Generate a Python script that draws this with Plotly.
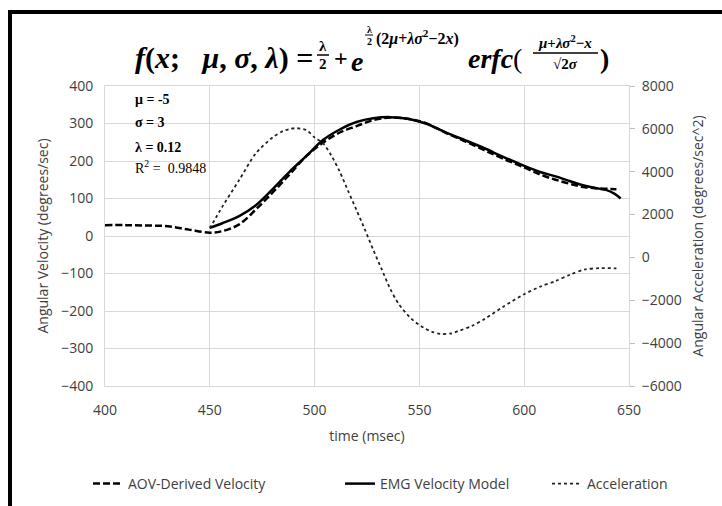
import plotly.graph_objects as go

# ---- data ----
aov_t = [400, 410, 420, 430, 440, 450, 456, 464, 472, 480, 488, 496, 504, 512, 520, 528, 536, 545, 553, 563, 572, 581, 590, 600, 608, 615, 622, 629, 636, 644]
aov_v = [29, 29, 28, 26, 17, 9, 13, 31, 71, 116, 164, 213, 249, 276, 293, 309, 316, 312, 301, 274, 252, 229, 206, 183, 163, 150, 139, 130, 127, 125]

emg_t = [450, 456, 464, 472, 480, 488, 496, 504, 512, 520, 528, 536, 545, 553, 563, 572, 581, 590, 600, 608, 615, 622, 629, 635, 639, 643, 646]
emg_v = [22, 34, 53, 82, 125, 171, 213, 256, 284, 304, 314, 317, 312, 300, 275, 255, 234, 211, 187, 170, 159, 146, 134, 127, 123, 113, 100]

acc_t = [450, 456, 464, 472, 480, 485, 488, 491, 496, 500, 504, 508, 512, 516, 520, 524, 528, 532, 536, 540, 546, 552, 556, 560, 565, 569, 575, 581, 590, 600, 608, 615, 622, 629, 636, 644]
acc_a = [1360, 2370, 3610, 4860, 5600, 5900, 5990, 6030, 5950, 5600, 5330, 4750, 4000, 3100, 2210, 1300, 350, -550, -1450, -2150, -2850, -3280, -3470, -3570, -3550, -3420, -3200, -2880, -2300, -1715, -1350, -1100, -800, -560, -500, -510]

x_ticks = [400, 450, 500, 550, 600, 650]
y_ticks = [400, 300, 200, 100, 0, -100, -200, -300, -400]
y2_ticks = [8000, 6000, 4000, 2000, 0, -2000, -4000, -6000]

params = ["<b>\u03bc = -5</b>", "<b>\u03c3 = 3</b>", "<b>\u03bb = 0.12</b>", "R<sup>2</sup> =  0.9848"]

# ---- layout geometry ----
W, H = 722, 506
L, R, T, B = 105, 93, 86, 120
PW, PH = W - L - R, H - T - B

def px(x):
    return (x - L) / PW

def py(y):
    return (H - B - y) / PH

GRID = "#d9d9d9"
TXT = "#404040"
TICKFONT = dict(family="Open Sans", size=14, color=TXT)

fig = go.Figure()
fig.add_trace(go.Scatter(x=aov_t, y=aov_v, mode="lines", name="AOV-Derived Velocity",
                         line=dict(color="black", width=2.5, dash="7px,3px", shape="spline"),
                         legend="legend"))
fig.add_trace(go.Scatter(x=emg_t, y=emg_v, mode="lines", name="EMG Velocity Model",
                         line=dict(color="black", width=2.5, shape="spline"),
                         legend="legend2"))
fig.add_trace(go.Scatter(x=acc_t, y=acc_a, mode="lines", name="Acceleration", yaxis="y2",
                         line=dict(color="#222222", width=1.8, dash="dot", shape="spline", smoothing=0.8),
                         legend="legend3"))

ann = []
# parameter box
for txt, yy in zip(params, [100, 123, 147, 167]):
    ann.append(dict(text=txt, x=px(133), y=py(yy), xref="paper", yref="paper", xanchor="left",
                    yanchor="middle", showarrow=False,
                    font=dict(family="Liberation Serif", size=14, color="black")))

SERIF = "Liberation Serif"
def t(text, x, y, size, anchor="center"):
    ann.append(dict(text=text, x=px(x), y=py(y), xref="paper", yref="paper", xanchor=anchor,
                    yanchor="middle", showarrow=False,
                    font=dict(family=SERIF, size=size, color="black")))

NB = "\u00a0"
# formula title
t("<b><i>f</i>(<i>x</i>;" + NB * 3 + "<i>\u03bc</i>," + NB + "<i>\u03c3</i>," + NB + "<i>\u03bb</i>)" + NB + "=</b>", 315, 58, 30, "right")
t("<b>\u03bb</b>", 323, 46, 15)
t("<b>2</b>", 323, 64, 15)
t("<b>+</b>", 341, 58, 24)
t("<b><i>e</i></b>", 357, 61, 28)
t("<b>\u03bb</b>", 369, 29, 10)
t("<b>2</b>", 369, 41, 10)
t("<b>(2<i>\u03bc</i>+<i>\u03bb\u03c3</i><sup>2</sup>\u22122<i>x</i>)</b>", 374, 37, 16, "left")
t("<b><i>erfc</i></b>(", 466, 58, 28, "left")
t("<b><i>\u03bc</i>+<i>\u03bb\u03c3</i><sup>2</sup>\u2212<i>x</i></b>", 565, 42, 15)
t("<b>\u221a2<i>\u03c3</i></b>", 565, 64, 15)
t("<b>)</b>", 604, 58, 28)

shapes = [
    dict(type="line", xref="paper", yref="paper", x0=px(317), x1=px(329), y0=py(55), y1=py(55),
         line=dict(color="black", width=1.5)),
    dict(type="line", xref="paper", yref="paper", x0=px(365), x1=px(373), y0=py(35), y1=py(35),
         line=dict(color="black", width=1)),
    dict(type="line", xref="paper", yref="paper", x0=px(533), x1=px(598), y0=py(53), y1=py(53),
         line=dict(color="black", width=1.5)),
    # outer black frame (left and top visible)
    dict(type="line", xref="paper", yref="paper", x0=px(10), x1=px(10), y0=py(12), y1=py(515),
         line=dict(color="black", width=4)),
    dict(type="line", xref="paper", yref="paper", x0=px(8), x1=px(730), y0=py(12), y1=py(12),
         line=dict(color="black", width=4)),
]

legfont = dict(family="Open Sans", size=14, color=TXT)
def leg(xpx):
    return dict(x=px(xpx), y=py(484), xanchor="left", yanchor="middle", orientation="h",
                font=legfont, bgcolor="rgba(0,0,0,0)", borderwidth=0)

fig.update_layout(
    width=W, height=H,
    margin=dict(l=L, r=R, t=T, b=B, autoexpand=False),
    paper_bgcolor="white", plot_bgcolor="white",
    showlegend=True,
    legend=leg(88), legend2=leg(340), legend3=leg(547),
    xaxis=dict(range=[400, 650], tickvals=x_ticks, showgrid=True, gridcolor=GRID, gridwidth=1,
               zeroline=False, showline=True, linecolor=GRID, mirror=True, ticks="",
               tickfont=TICKFONT, ticklabelstandoff=11, automargin=False,
               title=dict(text="time (msec)", font=dict(family="Open Sans", size=14, color=TXT),
                          standoff=13)),
    yaxis=dict(range=[-400, 400], tickvals=y_ticks, showgrid=True, gridcolor=GRID, gridwidth=1,
               zeroline=False, showline=True, linecolor=GRID, mirror=True, ticks="",
               tickfont=TICKFONT, ticklabelstandoff=8, automargin=False,
               title=dict(text="Angular Velocity (degrees/sec)",
                          font=dict(family="Open Sans", size=14, color=TXT), standoff=9)),
    yaxis2=dict(range=[-6000, 8000], tickvals=y2_ticks, overlaying="y", side="right", showgrid=False,
                zeroline=False, ticks="outside", ticklen=5, tickcolor="#bfbfbf",
                tickfont=TICKFONT, ticklabelstandoff=4, automargin=False,
                title=dict(text="Angular Acceleration (degrees/sec^2)",
                           font=dict(family="Open Sans", size=14, color=TXT), standoff=12)),
    annotations=ann,
    shapes=shapes,
)

fig.write_html("out.html", config={"displayModeBar": False},
               post_script="document.body.style.margin='0';document.body.style.padding='0';document.body.style.overflow='hidden';")
